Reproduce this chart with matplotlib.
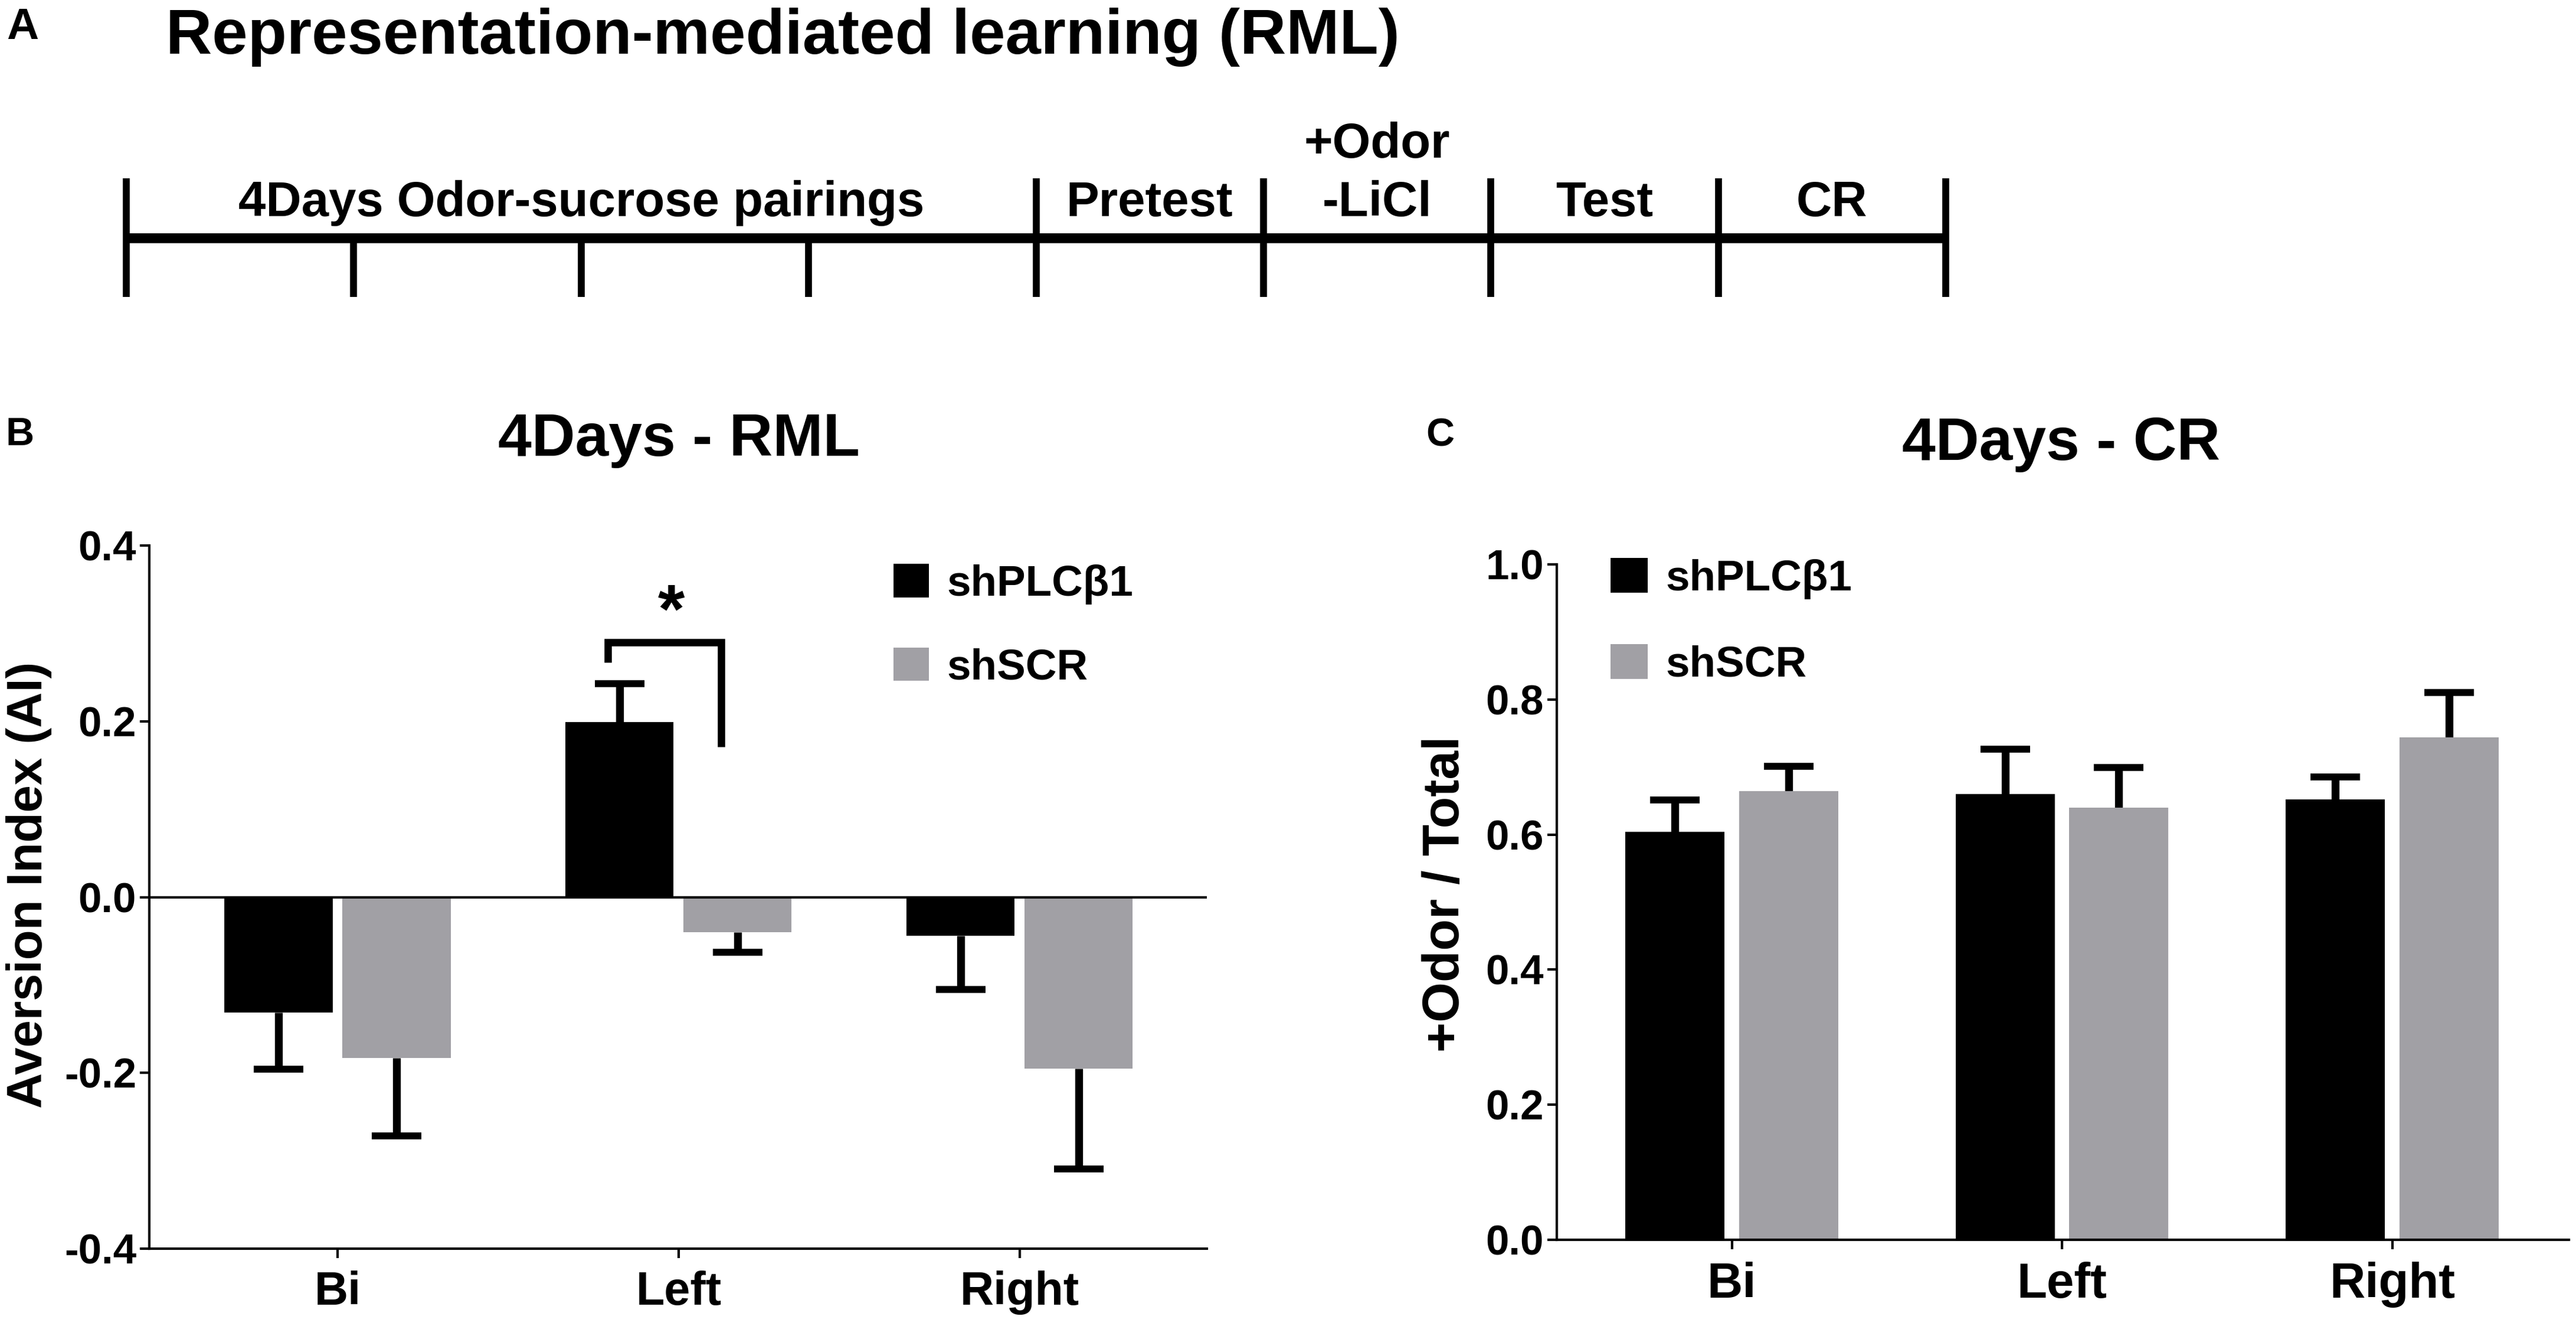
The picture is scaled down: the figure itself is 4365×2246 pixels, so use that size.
import matplotlib
matplotlib.use("Agg")
import matplotlib.pyplot as plt
import numpy as np
from matplotlib.patches import Patch

plt.rcParams['font.family'] = ['Liberation Sans', 'DejaVu Sans']
plt.rcParams['font.weight'] = 'bold'
plt.rcParams['axes.labelweight'] = 'bold'
plt.rcParams['axes.unicode_minus'] = False

W, H, DPI = 4365, 2246, 300

# ---- data ----
groups = ["Bi", "Left", "Right"]
series = ["shPLC\u03b21", "shSCR"]
bar_colors = ["#000000", "#a1a0a5"]

# B: aversion index, mean and one-sided error
rml_plc = [-0.131, 0.199, -0.044]
rml_plc_err = [0.065, 0.044, 0.061]
rml_scr = [-0.183, -0.040, -0.195]
rml_scr_err = [0.089, 0.023, 0.114]

# C: +odor / total
cr_plc = [0.604, 0.660, 0.652]
cr_plc_err = [0.047, 0.066, 0.033]
cr_scr = [0.664, 0.640, 0.744]
cr_scr_err = [0.037, 0.059, 0.066]

# significance in B (Left group)
sig_group = 1
sig_ends = [0.267, 0.29, 0.171]
sig_label = "*"

# A: protocol timeline
stages = ["4Days Odor-sucrose pairings", "Pretest", "+Odor\n-LiCl", "Test", "CR"]
stage_days = [4, 1, 1, 1, 1]


def fx(px):
    return px / W


def fy(py):
    return 1 - py / H


def draw_err(ax, xs, vals, errs):
    for xi, v, e in zip(xs, vals, errs):
        up = v >= 0
        yerr = [[0], [e]] if up else [[e], [0]]
        _, caps, _ = ax.errorbar([xi], [v], yerr=yerr, fmt='none', ecolor='black',
                                 elinewidth=3.2, capsize=10, capthick=2.8, zorder=1)
        caps[0 if up else 1].set_visible(False)


def style_axes(ax, xlim):
    for s in ['top', 'right']:
        ax.spines[s].set_visible(False)
    for s in ['left', 'bottom']:
        ax.spines[s].set_linewidth(1.0)
    ax.tick_params(axis='both', direction='out', length=3.8, width=1.0, color='black')
    ax.tick_params(axis='y', pad=1.5, labelsize=17)
    ax.tick_params(axis='x', pad=5)
    ax.set_xlim(*xlim)
    ax.set_xticks(np.arange(len(groups)))


fig = plt.figure(figsize=(W / DPI, H / DPI), dpi=DPI)

# ---- A: timeline ----
fig.text(fx(38), fy(66), "A", fontsize=18, ha='center', va='baseline')
fig.text(fx(1326), fy(91), "Representation-mediated learning (RML)", fontsize=26,
         ha='center', va='baseline')

ax_t = fig.add_axes([fx(214), fy(503), fx(3297) - fx(214), fy(302) - fy(503)])
ax_t.set_axis_off()
edges = np.concatenate([[0], np.cumsum(stage_days)])
total = edges[-1]
ax_t.set_xlim(0, total)
ax_t.set_ylim(-1, 1)
ax_t.plot([0, total], [0, 0], color='black', lw=4.0, solid_capstyle='butt', clip_on=False)
ax_t.vlines(edges, -1, 1, color='black', lw=2.8, clip_on=False)
inner = [d for d in range(1, stage_days[0])]
ax_t.vlines(inner, -1, 0, color='black', lw=2.8, clip_on=False)
for lo, hi, name in zip(edges[:-1], edges[1:], stages):
    lines = name.split("\n")
    for i, line in enumerate(reversed(lines)):
        ax_t.text((lo + hi) / 2, 0.36 + i * 0.99, line, ha='center', va='baseline',
                  fontsize=20, clip_on=False)

# ---- B: RML ----
x = np.arange(len(groups))
axB = fig.add_axes([fx(253), fy(2115), fx(2045) - fx(253), fy(924) - fy(2115)])
wB, offB = 0.317, 0.173
axB.bar(x - offB, rml_plc, wB, color=bar_colors[0], zorder=2)
axB.bar(x + offB, rml_scr, wB, color=bar_colors[1], zorder=2)
draw_err(axB, x - offB, rml_plc, rml_plc_err)
draw_err(axB, x + offB, rml_scr, rml_scr_err)
axB.axhline(0, color='black', lw=1.0, zorder=3)
style_axes(axB, (-0.552, 2.549))
axB.set_ylim(-0.4, 0.4)
axB.set_yticks([-0.4, -0.2, 0.0, 0.2, 0.4])
axB.set_yticklabels([f"{v:.1f}" for v in [-0.4, -0.2, 0.0, 0.2, 0.4]])
axB.set_xticklabels(groups, fontsize=19)
axB.set_ylabel("Aversion Index (AI)", fontsize=20, va='center')
axB.yaxis.set_label_coords(-0.114, 0.517)

bx0, bx1 = sig_group - 0.208, sig_group + 0.125
axB.plot([bx0, bx0, bx1, bx1], [sig_ends[0], sig_ends[1], sig_ends[1], sig_ends[2]],
         color='black', lw=3.0, solid_joinstyle='miter', solid_capstyle='butt', zorder=3)
axB.text((bx0 + bx1) / 2 + 0.02, sig_ends[1] - 0.005, sig_label, ha='center', va='bottom',
         fontsize=28)

handles = [Patch(facecolor=c, edgecolor='none') for c in bar_colors]
axB.legend(handles, series, loc='upper left', bbox_to_anchor=(fx(1514), fy(955)),
           bbox_transform=fig.transFigure, frameon=False, borderpad=0, borderaxespad=0,
           handlelength=0.82, handleheight=0.82, handletextpad=0.42, labelspacing=1.0,
           prop={'size': 17.5, 'weight': 'bold'})

fig.text(fx(34), fy(754), "B", fontsize=16, ha='center', va='baseline')
fig.text(fx(1150), fy(772), "4Days - RML", fontsize=24.5, ha='center', va='baseline')

# ---- C: CR ----
axC = fig.add_axes([fx(2638), fy(2100), fx(4353) - fx(2638), fy(956) - fy(2100)])
wC, offC = 0.30, 0.172
axC.bar(x - offC, cr_plc, wC, color=bar_colors[0], zorder=2)
axC.bar(x + offC, cr_scr, wC, color=bar_colors[1], zorder=2)
draw_err(axC, x - offC, cr_plc, cr_plc_err)
draw_err(axC, x + offC, cr_scr, cr_scr_err)
style_axes(axC, (-0.53, 2.535))
axC.set_ylim(0, 1.0)
axC.set_yticks([0.0, 0.2, 0.4, 0.6, 0.8, 1.0])
axC.set_yticklabels([f"{v:.1f}" for v in [0.0, 0.2, 0.4, 0.6, 0.8, 1.0]])
axC.set_xticklabels(groups, fontsize=20)
axC.set_ylabel("+Odor / Total", fontsize=21, va='center')
axC.yaxis.set_label_coords(-0.11, 0.512)
axC.legend(handles, series, loc='upper left', bbox_to_anchor=(fx(2729), fy(945)),
           bbox_transform=fig.transFigure, frameon=False, borderpad=0, borderaxespad=0,
           handlelength=0.86, handleheight=0.86, handletextpad=0.42, labelspacing=1.05,
           prop={'size': 17.5, 'weight': 'bold'})

fig.text(fx(2440), fy(756), "C", fontsize=16, ha='center', va='baseline')
fig.text(fx(3493), fy(779), "4Days - CR", fontsize=24.5, ha='center', va='baseline')

fig.savefig("out.png", dpi=DPI, facecolor='white')
